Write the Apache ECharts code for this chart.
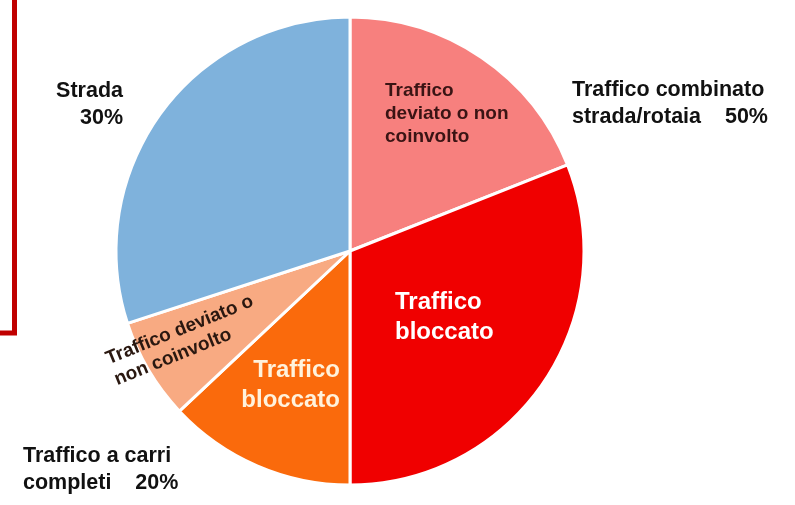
<!DOCTYPE html>
<html><head><meta charset="utf-8">
<script src="https://cdn.jsdelivr.net/npm/echarts/dist/echarts.min.js"></script>
<style>html,body{margin:0;padding:0;background:#fff}#c{width:795px;height:505px}</style>
</head><body><div id="c"></div>
<script>
// Slices, clockwise from 12 o'clock
const sliceNames = ['Traffico\ndeviato o non\ncoinvolto', 'Traffico\nbloccato', 'Traffico\nbloccato', 'Traffico deviato o\nnon coinvolto', 'Strada'];
const sliceValues = [19, 31, 13, 7, 30];
// Groups (outer annotations)
const groupNames = ['Traffico combinato\nstrada/rotaia', 'Traffico a carri\ncompleti', 'Strada'];
const groupValues = [50, 20, 30];

const sliceColors = ['#F7807E', '#F00000', '#FA6A0C', '#F8AA82', '#7FB2DC'];
const FONT = '"Liberation Sans", Arial, sans-serif';
const sliceLabelStyle = [
  {show: true, fontSize: 19, lineHeight: 23, color: '#3a1414'},
  {show: true, fontSize: 24, lineHeight: 30, color: '#ffffff'},
  {show: true, fontSize: 24, lineHeight: 30, color: '#fff2dc'},
  {show: true, fontSize: 19, lineHeight: 22.5, color: '#2a1810'},
  {show: false}
];
const sliceLabelPlace = [
  {x: 385, y: 114, align: 'left'},
  {x: 395, y: 317, align: 'left'},
  {x: 340, y: 385, align: 'right'},
  {x: 111, y: 370, align: 'left', rotate: 22},
  null
];
const groupLabelPlace = [
  {x: 572, y: 104, align: 'left'},
  {x: 23, y: 470, align: 'left'},
  {x: 123, y: 105, align: 'right'}
];

const chart = echarts.init(document.getElementById('c'));
chart.setOption({
  animation: false,
  backgroundColor: '#ffffff',
  textStyle: {fontFamily: FONT},
  graphic: [{
    type: 'polyline',
    shape: {points: [[0, 333], [14.5, 333], [14.5, -5]]},
    style: {stroke: '#C00000', lineWidth: 5, fill: null}
  }],
  series: [
    {
      type: 'pie',
      silent: true,
      center: [350, 251],
      radius: 234,
      startAngle: 90,
      clockwise: true,
      avoidLabelOverlap: false,
      itemStyle: {color: 'rgba(0,0,0,0)', borderWidth: 0},
      label: {
        show: true, position: 'inside', fontFamily: FONT, fontWeight: 'bold',
        fontSize: 21.5, lineHeight: 27, color: '#111111',
        formatter: p => p.name + (p.name.indexOf('\n') >= 0 ? '    ' : '\n') + p.value + '%'
      },
      labelLine: {show: false},
      labelLayout: p => Object.assign({verticalAlign: 'middle'}, groupLabelPlace[p.dataIndex]),
      data: groupNames.map((n, i) => ({name: n, value: groupValues[i]}))
    },
    {
      type: 'pie',
      silent: true,
      center: [350, 251],
      radius: 234,
      startAngle: 90,
      clockwise: true,
      avoidLabelOverlap: false,
      itemStyle: {borderColor: '#ffffff', borderWidth: 3},
      label: {position: 'inside', fontFamily: FONT, fontWeight: 'bold', formatter: '{b}'},
      labelLine: {show: false},
      labelLayout: p => sliceLabelPlace[p.dataIndex] ? Object.assign({verticalAlign: 'middle'}, sliceLabelPlace[p.dataIndex]) : {},
      data: sliceNames.map((n, i) => ({
        name: n, value: sliceValues[i],
        itemStyle: {color: sliceColors[i]},
        label: sliceLabelStyle[i]
      }))
    }
  ]
});
</script>
</body></html>
